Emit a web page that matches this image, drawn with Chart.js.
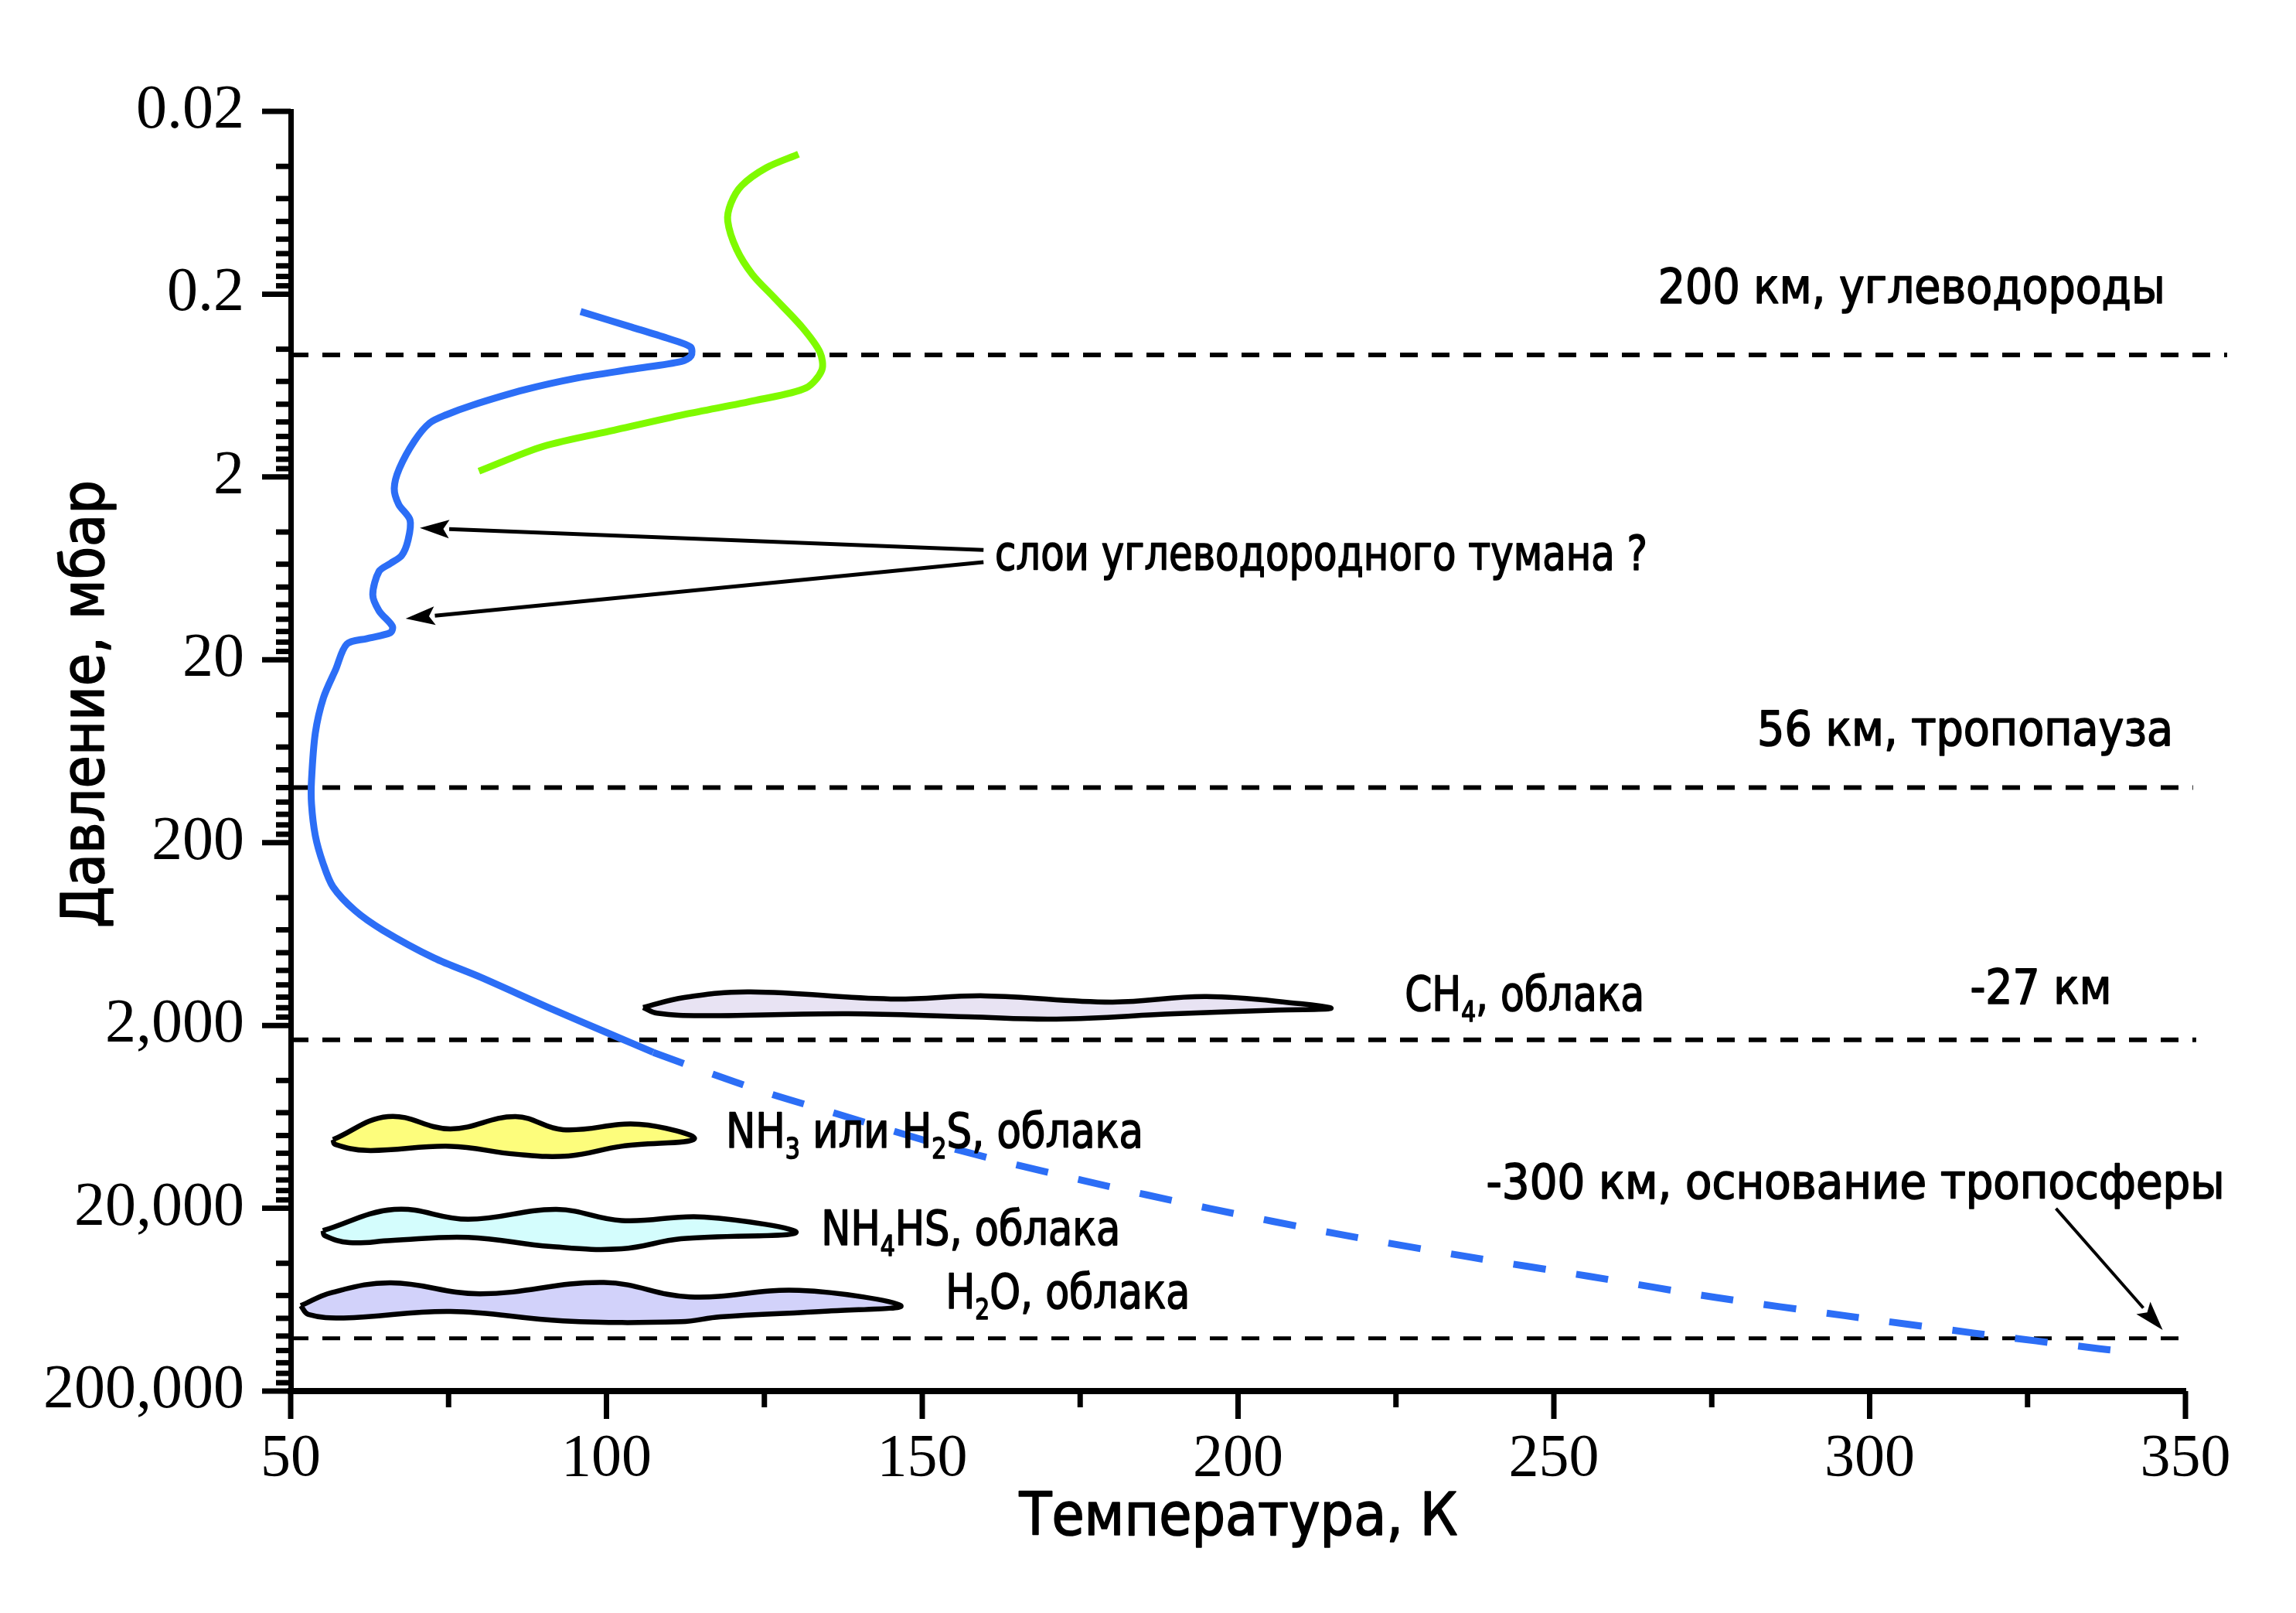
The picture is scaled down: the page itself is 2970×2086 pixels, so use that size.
<!DOCTYPE html>
<html>
<head>
<meta charset="utf-8">
<script src="https://cdn.jsdelivr.net/npm/chart.js@4.4.1/dist/chart.umd.min.js"></script>
<style>
  html, body { margin: 0; padding: 0; background: #fff; }
  canvas { display: block; }
</style>
</head>
<body>
<canvas id="chart" width="2970" height="2086"></canvas>
<script>
// temperature profile, [K, mbar]
const measuredProfile = [
  [95.9, 0.249], [104, 0.303], [109.6, 0.348], [113.3, 0.389], [113.4, 0.435],
  [111.9, 0.466], [104, 0.515], [95.5, 0.574], [87.1, 0.666], [78.7, 0.811],
  [74.7, 0.912], [72, 1.014], [69.6, 1.27], [67.2, 1.80], [66.4, 2.31],
  [67.1, 2.82], [68.9, 3.44], [68.6, 4.41], [67.6, 5.36], [65.8, 5.94],
  [64, 6.56], [63, 8.81], [64, 10.8], [66.1, 13.1], [65.8, 14.2],
  [62.1, 15.3], [58.9, 16.4], [57.1, 22.7], [55.2, 32.2], [53.9, 50.4],
  [53.3, 91.2], [53.3, 123], [53.9, 183], [55.1, 258], [56.7, 349],
  [60.2, 471], [64.6, 603], [72.7, 855], [80.1, 1091], [91.4, 1630],
  [100.8, 2245], [107.4, 2806]
];
const extrapolatedProfile = [
  [107.4, 2806], [115.1, 3517], [125.3, 4656], [135.1, 5886], [155.8, 9620],
  [175.3, 14060], [195.5, 20050], [215.5, 27520], [235.6, 36440], [255.7, 47200],
  [275.5, 61400], [296, 77300], [316.4, 96200], [336.4, 117300], [339.1, 120200]
];
const upperProfile = [
  [130.4, 0.0343], [125.3, 0.0407], [121.4, 0.051], [119.7, 0.0637], [119.2, 0.0796],
  [120.6, 0.1135], [123.1, 0.156], [126.5, 0.208], [131, 0.304], [133.8, 0.416],
  [134.1, 0.52], [131.6, 0.651], [123.7, 0.761], [112.4, 0.909], [101.2, 1.11],
  [90, 1.36], [79.8, 1.86]
];

// level lines, mbar, and the temperature where each dashed line stops
const levelPressures = [0.43, 100, 2400, 103000];
const levelEnds = [356.6, 351.2, 351.7, 350.4];

// cloud outlines, [K, mbar]
const cloudCH4 = [
  [105.8, 1595], [112.3, 1406], [122.8, 1312], [145, 1433], [160, 1378], [180, 1490],
  [195, 1391], [209.9, 1521], [214.7, 1614], [206.5, 1646], [190, 1727], [171.3, 1846],
  [157.3, 1795], [138.3, 1726], [115, 1770], [108, 1713]
];
const cloudNH3 = [
  [56.7, 8430], [65.4, 6300], [75.3, 7360], [85.6, 6300], [93.1, 7430], [105.2, 6940],
  [113.9, 8350], [102.4, 9160], [94, 10350], [85.6, 10120], [75.3, 9160], [62.1, 9660],
  [57, 8930]
];
const cloudNH4SH = [
  [55.1, 26500], [66.4, 20300], [78.1, 22980], [92.1, 20300], [102.4, 23350], [115.5, 22350],
  [130, 27180], [111.8, 29380], [102.4, 33350], [91.2, 32400], [78.1, 28840], [65.9, 30000],
  [59.3, 30850], [55.4, 28250]
];
const cloudH2O = [
  [51.6, 68200], [56.5, 57800], [65.9, 51200], [80, 58760], [99.6, 50950], [113.2, 61100],
  [130.5, 56250], [146.6, 68200], [135.2, 73000], [118, 78500], [111.8, 83500], [93.1, 82600],
  [75.3, 73300], [58.4, 79600], [52.8, 76200]
];

const yMajorTicks = [0.02, 0.2, 2, 20, 200, 2000, 20000, 200000];
const yTickLabels = ['0.02', '0.2', '2', '20', '200', '2,000', '20,000', '200,000'];
const xTickLabels = ['50', '100', '150', '200', '250', '300', '350'];

// text on the plot: anchor is left end of the baseline, in [K, mbar]; _n marks a subscript
const notes = [
  { text: '200 км, углеводороды', t: 266.5, p: 0.224, width: 656 },
  { text: '56 км, тропопауза', t: 282.2, p: 58.8, width: 538 },
  { text: 'слои углеводородного тумана ?', t: 161.5, p: 6.45, width: 844 },
  { text: 'CH_4, облака', t: 226.4, p: 1660, width: 310 },
  { text: '-27 км', t: 315.9, p: 1520, width: 183 },
  { text: 'NH_3 или H_2S, облака', t: 118.9, p: 9290, width: 540 },
  { text: '-300 км, основание тропосферы', t: 239.3, p: 17690, width: 955 },
  { text: 'NH_4HS, облака', t: 134.0, p: 31700, width: 387 },
  { text: 'H_2O, облака', t: 153.7, p: 70470, width: 316 }
];
const arrows = [
  { from: [159.7, 5.01], to: [70.45, 3.80], width: 5 },
  { from: [159.7, 5.85], to: [68.2, 11.9], width: 5 },
  { from: [329.5, 20070], to: [346.4, 92700], width: 4 }
];

const SANS = '"DejaVu Sans Condensed", "DejaVu Sans", sans-serif';
const BLUE = '#2c6ef6';
const toXY = pairs => pairs.map(([x, y]) => ({ x, y }));

function cloud(points, color) {
  return {
    data: toXY([...points, points[0]]),
    borderColor: '#000',
    borderWidth: 6.5,
    backgroundColor: color,
    fill: 'shape',
    tension: 0.4,
    order: 3
  };
}

function level(p, end, width) {
  return {
    data: [{ x: 50, y: p }, { x: end, y: p }],
    borderColor: '#000',
    borderWidth: width,
    borderDash: [23, 18],
    fill: false,
    clip: false,
    order: 2
  };
}

function isMajorY(v) {
  return yMajorTicks.findIndex(m => Math.abs(v / m - 1) < 1e-9);
}

// draws text with subscripts, squeezed to the given width
function drawRich(ctx, text, x, y, size, width) {
  const parts = text.split(/(_\d)/).filter(s => s.length);
  const main = `${size}px ${SANS}`;
  const sub = `${Math.round(size * 0.58)}px ${SANS}`;
  let total = 0;
  parts.forEach(s => {
    ctx.font = s[0] === '_' ? sub : main;
    total += ctx.measureText(s[0] === '_' ? s.slice(1) : s).width;
  });
  ctx.save();
  ctx.translate(x, y);
  ctx.scale(width / total, 1);
  ctx.textAlign = 'left';
  ctx.textBaseline = 'alphabetic';
  ctx.lineWidth = 1.6;
  ctx.lineJoin = 'round';
  let cx = 0;
  parts.forEach(s => {
    const isSub = s[0] === '_';
    const str = isSub ? s.slice(1) : s;
    ctx.font = isSub ? sub : main;
    const dy = isSub ? size * 0.22 : 0;
    ctx.fillText(str, cx, dy);
    ctx.strokeText(str, cx, dy);
    cx += ctx.measureText(str).width;
  });
  ctx.restore();
}

function drawArrow(ctx, x1, y1, x2, y2, lw) {
  const a = Math.atan2(y2 - y1, x2 - x1);
  const head = 38, half = 12;
  const bx = x2 - head * Math.cos(a), by = y2 - head * Math.sin(a);
  ctx.lineWidth = lw;
  ctx.beginPath();
  ctx.moveTo(x1, y1);
  ctx.lineTo(bx, by);
  ctx.stroke();
  ctx.beginPath();
  ctx.moveTo(x2, y2);
  ctx.lineTo(bx + half * Math.sin(a), by - half * Math.cos(a));
  ctx.lineTo(x2 - head * 0.8 * Math.cos(a), y2 - head * 0.8 * Math.sin(a));
  ctx.lineTo(bx - half * Math.sin(a), by + half * Math.cos(a));
  ctx.closePath();
  ctx.fill();
}

const extras = {
  id: 'extras',
  afterDatasetsDraw(chart) {
    const { ctx, scales: { x, y } } = chart;
    ctx.save();
    ctx.fillStyle = '#000';
    ctx.strokeStyle = '#000';
    arrows.forEach(a => {
      drawArrow(ctx,
        x.getPixelForValue(a.from[0]), y.getPixelForValue(a.from[1]),
        x.getPixelForValue(a.to[0]), y.getPixelForValue(a.to[1]), a.width);
    });
    notes.forEach(n => {
      drawRich(ctx, n.text, x.getPixelForValue(n.t), y.getPixelForValue(n.p), 63, n.width);
    });
    ctx.restore();
  },
  afterDraw(chart) {
    const { ctx, scales: { x, y } } = chart;
    ctx.save();
    ctx.strokeStyle = '#000';
    ctx.fillStyle = '#000';
    ctx.lineWidth = 7;
    // tick marks, long for labelled values
    y.ticks.forEach(t => {
      const py = y.getPixelForValue(t.value);
      const len = isMajorY(t.value) >= 0 ? 37 : 19;
      ctx.beginPath();
      ctx.moveTo(y.right - len, py);
      ctx.lineTo(y.right, py);
      ctx.stroke();
    });
    x.ticks.forEach(t => {
      const px = x.getPixelForValue(t.value);
      const len = t.value % 50 === 0 ? 36 : 21;
      ctx.beginPath();
      ctx.moveTo(px, x.top);
      ctx.lineTo(px, x.top + len);
      ctx.stroke();
    });
    // axis titles
    const area = chart.chartArea;
    drawRich(ctx, 'Температура, К', (area.left + area.right) / 2 - 283, 1985, 76, 567);
    ctx.save();
    ctx.translate(134, 911);
    ctx.rotate(-Math.PI / 2);
    drawRich(ctx, 'Давление, мбар', -289, 0, 76, 579);
    ctx.restore();
    ctx.restore();
  }
};

Chart.defaults.color = '#000';

new Chart(document.getElementById('chart'), {
  type: 'line',
  data: {
    datasets: [
      { data: toXY(measuredProfile), borderColor: BLUE, borderWidth: 9, tension: 0.3, fill: false, order: 1 },
      { data: toXY(extrapolatedProfile), borderColor: BLUE, borderWidth: 9, borderDash: [42, 40], tension: 0.3, fill: false, order: 1 },
      { data: toXY(upperProfile), borderColor: '#7ffa00', borderWidth: 9, tension: 0.3, fill: false, order: 1 },
      level(levelPressures[0], levelEnds[0], 6),
      level(levelPressures[1], levelEnds[1], 6),
      level(levelPressures[2], levelEnds[2], 6),
      level(levelPressures[3], levelEnds[3], 5),
      cloud(cloudCH4, '#e8e3f3'),
      cloud(cloudNH3, '#fdfd7c'),
      cloud(cloudNH4SH, '#d4fdfd'),
      cloud(cloudH2O, '#d2d2fa')
    ]
  },
  options: {
    responsive: false,
    devicePixelRatio: 1,
    animation: false,
    events: [],
    layout: { padding: { top: 144, right: 143, left: 0, bottom: 0 } },
    elements: { point: { radius: 0 } },
    plugins: { legend: { display: false }, tooltip: { enabled: false } },
    scales: {
      x: {
        type: 'linear',
        min: 50,
        max: 350,
        afterFit: s => { s.height = 287; },
        grid: { display: false, drawTicks: false },
        border: { display: true, width: 8, color: '#000' },
        ticks: {
          stepSize: 25,
          autoSkip: false,
          maxRotation: 0,
          padding: 42,
          font: { family: 'Liberation Serif', size: 78 },
          callback: v => (v % 50 === 0 ? xTickLabels[(v - 50) / 50] : '')
        }
      },
      y: {
        type: 'logarithmic',
        reverse: true,
        min: 0.02,
        max: 200000,
        afterFit: s => { s.width = 376; },
        afterBuildTicks: s => {
          const ticks = [];
          yMajorTicks.forEach((m, i) => {
            ticks.push({ value: m, major: true });
            if (i < yMajorTicks.length - 1) {
              for (let k = 2; k <= 9; k++) ticks.push({ value: m * k });
            }
          });
          s.ticks = ticks;
        },
        grid: { display: false, drawTicks: false },
        border: { display: true, width: 7, color: '#000' },
        ticks: {
          autoSkip: false,
          padding: 60,
          font: { family: 'Liberation Serif', size: 80 },
          callback: v => {
            const i = isMajorY(v);
            return i >= 0 ? yTickLabels[i] : '';
          }
        }
      }
    }
  },
  plugins: [extras]
});
</script>
</body>
</html>
